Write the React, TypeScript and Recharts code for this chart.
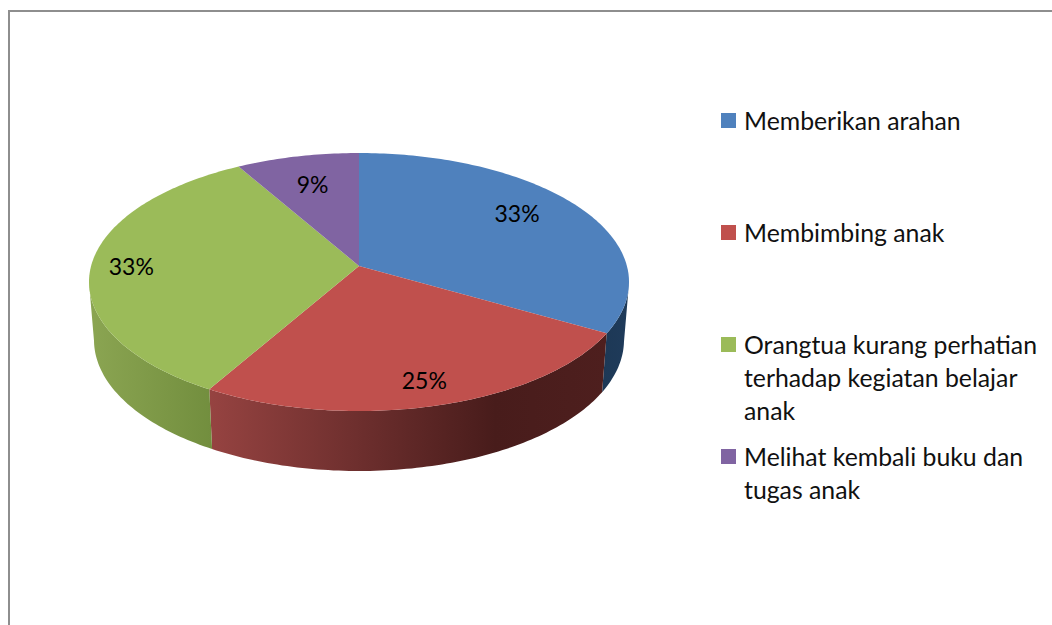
import { PieChart, Pie, Legend } from "recharts";

const categories = [
  "Memberikan arahan",
  "Membimbing anak",
  "Orangtua kurang perhatian terhadap kegiatan belajar anak",
  "Melihat kembali buku dan tugas anak",
];
const shares = [33.3, 25, 33.4, 8.3];
const shareLabels = ["33%", "25%", "33%", "9%"];
const topColors = ["#4f81bd", "#c0504d", "#9bbb59", "#8064a2"];

// where each percent label sits inside its slice
const labelRadius = [0.76, 0.84, 0.85, 0.73];
const labelTurn = [5, 0, 0, 0];
const legendGaps = [0, 79, 79, 13];

const FONT = "Lato, 'Open Sans', sans-serif";
const CX = 359;
const CY = 282;
const RX = 270;
// tilted disc: flattened ellipse, with the apex pushed up by perspective
const SQUASH = 129 / 270;
const TILT = -0.125;
const RIM_DROP = 58;
const RIM_RX = 265;
const RIM_RY = 131;

const topData = categories.map((name, i) => ({ name, value: shares[i], fill: topColors[i] }));
const wallData = categories.map((name, i) => ({ name, value: shares[i], fill: `url(#wall${i})` }));

function project(deg: number, r: number, cx: number, cy: number, rx: number, ry: number) {
  const a = (deg * Math.PI) / 180;
  const x = r * Math.cos(a);
  const y = -r * Math.sin(a);
  const d = 1 + TILT * y;
  return [cx + (rx * x * Math.sqrt(1 - TILT * TILT)) / d, cy + (ry * (y + TILT)) / d];
}

function sweep(start: number, end: number) {
  const n = Math.max(1, Math.ceil(Math.abs(end - start)));
  return Array.from({ length: n + 1 }, (_, i) => start + ((end - start) * i) / n);
}

function TopSlice(props: any) {
  const { cx, cy, outerRadius, startAngle, endAngle, fill } = props;
  const ry = outerRadius * SQUASH;
  const apex = project(0, 0, cx, cy, outerRadius, ry);
  const rim = sweep(startAngle, endAngle).map((deg) => project(deg, 1, cx, cy, outerRadius, ry));
  const d = `M${apex[0]},${apex[1]}L` + rim.map((p) => p.join(",")).join("L") + "Z";
  return <path d={d} fill={fill} />;
}

function WallSlice(props: any) {
  const { cx, cy, outerRadius, startAngle, endAngle, fill } = props;
  const ry = outerRadius * SQUASH;
  // only the front half of the disc shows its side
  const front = sweep(startAngle, endAngle).filter((deg) => project(deg, 1, cx, cy, outerRadius, ry)[1] >= cy);
  if (front.length < 2) return null;
  const upper = front.map((deg) => project(deg, 1, cx, cy, outerRadius, ry));
  const lower = front.map((deg) => project(deg, 1, cx, cy + RIM_DROP, RIM_RX, RIM_RY)).reverse();
  const d = "M" + [...upper, ...lower].map((p) => p.join(",")).join("L") + "Z";
  return <path d={d} fill={fill} />;
}

function SliceLabel(props: any) {
  const { cx, cy, outerRadius, midAngle, index } = props;
  const [x, y] = project(midAngle + labelTurn[index], labelRadius[index], cx, cy, outerRadius, outerRadius * SQUASH);
  return (
    <text x={x} y={y} textAnchor="middle" dominantBaseline="central" fontFamily={FONT} fontSize={23} fill="#000">
      {shareLabels[index]}
    </text>
  );
}

function LegendList({ payload }: any) {
  // the side-wall pie also reports entries, keep only the top faces
  const rows = (payload ?? []).filter((entry: any) => entry.type !== "none");
  return (
    <div style={{ fontFamily: FONT, fontSize: 24.8, lineHeight: "33px", color: "#111" }}>
      {rows.map((entry: any, i: number) => (
        <div key={entry.value} style={{ display: "flex", marginTop: legendGaps[i] }}>
          <span style={{ width: 15, height: 15, marginTop: 9, marginRight: 8, flex: "none", background: entry.color }} />
          <span style={{ width: 300 }}>{entry.value}</span>
        </div>
      ))}
    </div>
  );
}

export default function App() {
  return (
    <div style={{ position: "absolute", left: 0, top: 0, width: 1052, height: 625, background: "#fff", overflow: "hidden" }}>
      <div style={{ position: "absolute", left: 8, top: 10, right: 0, bottom: 0, borderLeft: "2px solid #8e8e8e", borderTop: "2px solid #8e8e8e" }} />
      <PieChart width={1052} height={625} margin={{ top: 0, right: 0, bottom: 0, left: 0 }} style={{ position: "absolute", left: 0, top: 0 }}>
        <defs>
          <linearGradient id="wall0" x1="0" y1="0" x2="1" y2="0">
            <stop offset="0%" stopColor="#1d3856" />
            <stop offset="100%" stopColor="#1f3b5a" />
          </linearGradient>
          <linearGradient id="wall1" x1="0" y1="0" x2="1" y2="0">
            <stop offset="0%" stopColor="#964341" />
            <stop offset="37%" stopColor="#6e2f2e" />
            <stop offset="72%" stopColor="#481c1b" />
            <stop offset="100%" stopColor="#4e1f1e" />
          </linearGradient>
          <linearGradient id="wall2" x1="0" y1="0" x2="1" y2="0">
            <stop offset="0%" stopColor="#8ba552" />
            <stop offset="100%" stopColor="#728e3e" />
          </linearGradient>
          <linearGradient id="wall3" x1="0" y1="0" x2="1" y2="0">
            <stop offset="0%" stopColor="#5f4a7a" />
            <stop offset="100%" stopColor="#5f4a7a" />
          </linearGradient>
        </defs>
        <Pie
          data={wallData}
          dataKey="value"
          nameKey="name"
          cx={CX}
          cy={CY}
          outerRadius={RX}
          startAngle={90}
          endAngle={-270}
          legendType="none"
          shape={WallSlice}
          stroke="none"
          isAnimationActive={false}
        />
        <Pie
          data={topData}
          dataKey="value"
          nameKey="name"
          cx={CX}
          cy={CY}
          outerRadius={RX}
          startAngle={90}
          endAngle={-270}
          shape={TopSlice}
          stroke="none"
          label={SliceLabel}
          labelLine={false}
          isAnimationActive={false}
        />
        <Legend
          content={LegendList}
          itemSorter={null}
          wrapperStyle={{ left: 721, top: 104, width: 325, bottom: "auto", right: "auto" }}
        />
      </PieChart>
    </div>
  );
}
